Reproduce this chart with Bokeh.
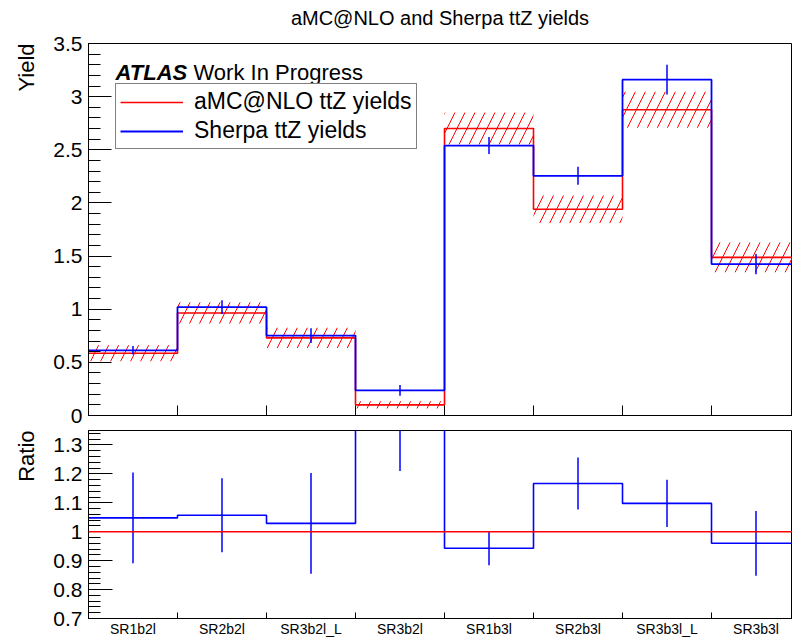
from bokeh.plotting import figure
from bokeh.models import (Range1d, FixedTicker, SingleIntervalTicker, NumeralTickFormatter,
                          Legend, LegendItem, Label, Span, Title, Div)
from bokeh.layouts import column
from bokeh.embed import file_html
from bokeh.resources import INLINE

# ---------------- data ----------------
categories = ["SR1b2l", "SR2b2l", "SR3b2l_L", "SR3b2l", "SR1b3l", "SR2b3l", "SR3b3l_L", "SR3b3l"]
amc_yield = [0.585, 0.965, 0.73, 0.10, 2.70, 1.94, 2.877, 1.488]
amc_err = [0.075, 0.10, 0.095, 0.035, 0.15, 0.13, 0.17, 0.14]
sherpa_yield = [0.613, 1.02, 0.752, 0.236, 2.54, 2.255, 3.16, 1.425]
sherpa_err = [0.04, 0.065, 0.07, 0.05, 0.08, 0.085, 0.14, 0.095]
ratio = [1.048, 1.057, 1.029, 2.36, 0.943, 1.167, 1.098, 0.96]
ratio_err = [0.157, 0.128, 0.174, 1.15, 0.059, 0.09, 0.082, 0.112]
yield_ticks_interval = 0.5
ratio_ticks_interval = 0.1

FONT = "Liberation Sans"
RED = "#ff0000"
BLUE = "#0000ff"
TITLE = "aMC@NLO and Sherpa ttZ yields"

n = len(categories)
edges = list(range(n + 1))
centers = [i + 0.5 for i in range(n)]


def style_common(p):
    p.grid.visible = False
    p.background_fill_color = "white"
    p.border_fill_color = "white"
    p.outline_line_color = "black"
    p.outline_line_width = 1


def axis_title(p, text):
    p.add_layout(Title(text=text, align="right", text_font=FONT, text_font_size="22px",
                       text_font_style="normal", text_color="black", standoff=23), "left")


# ---------------- title ----------------
title_div = Div(width=792, height=30,
                text=("<div style=\"margin-left:88px;width:704px;text-align:center;"
                      "padding-top:8px;font-family:'Liberation Sans';font-size:20px;"
                      "line-height:20px;color:black;white-space:nowrap\">" + TITLE + "</div>"),
                margin=0)

# ---------------- top panel ----------------
p1 = figure(width=792, height=398, x_range=Range1d(0, 7.91), y_range=Range1d(0, 3.5),
            output_backend="svg", toolbar_location=None, margin=0,
            min_border_left=88, min_border_right=0, min_border_top=13, min_border_bottom=13)
style_common(p1)

# hatched uncertainty band for aMC@NLO
p1.quad(left=edges[:-1], right=edges[1:],
        bottom=[v - e for v, e in zip(amc_yield, amc_err)],
        top=[v + e for v, e in zip(amc_yield, amc_err)],
        fill_alpha=0, line_alpha=0, hatch_pattern="/", hatch_color=RED,
        hatch_scale=20, hatch_weight=1)

red_step = p1.step(x=edges, y=amc_yield + [amc_yield[-1]], mode="after",
                   line_color=RED, line_width=1.6)
blue_step = p1.step(x=edges, y=sherpa_yield + [sherpa_yield[-1]], mode="after",
                    line_color=BLUE, line_width=1.8)
p1.segment(x0=centers, x1=centers,
           y0=[v - e for v, e in zip(sherpa_yield, sherpa_err)],
           y1=[v + e for v, e in zip(sherpa_yield, sherpa_err)],
           line_color=BLUE, line_width=1.5)

# axes
yax = p1.yaxis[0]
yax.ticker = SingleIntervalTicker(interval=yield_ticks_interval, num_minor_ticks=5)
yax.formatter = NumeralTickFormatter(format="0.[0]")
yax.major_tick_in = 23
yax.major_tick_out = 0
yax.minor_tick_in = 12
yax.minor_tick_out = 0
yax.major_label_text_font = FONT
yax.major_label_text_font_size = "21px"
yax.major_label_standoff = 6
yax.major_label_text_color = "black"
yax.axis_line_color = "black"

xax = p1.xaxis[0]
xax.ticker = FixedTicker(ticks=[], minor_ticks=edges)
xax.major_tick_in = 0
xax.major_tick_out = 0
xax.minor_tick_in = 10
xax.minor_tick_out = 0
xax.major_label_standoff = 0
xax.axis_line_color = "black"

axis_title(p1, "Yield")

legend = Legend(items=[LegendItem(label="aMC@NLO ttZ yields", renderers=[red_step]),
                       LegendItem(label="Sherpa ttZ yields", renderers=[blue_step])],
                location=(27, 266), orientation="vertical",
                border_line_color="black", border_line_width=1,
                background_fill_color="white", background_fill_alpha=1,
                label_text_font=FONT, label_text_font_size="23px", label_text_color="black",
                glyph_width=63, glyph_height=24, label_height=24, label_standoff=11,
                padding=4, spacing=2, margin=0)
p1.add_layout(legend)

p1.add_layout(Label(x=27, y=343, x_units="screen", y_units="screen", text="ATLAS",
                    text_font=FONT, text_font_size="22px", text_font_style="bold italic",
                    text_baseline="alphabetic", text_color="black"))
p1.add_layout(Label(x=105, y=343, x_units="screen", y_units="screen", text="Work In Progress",
                    text_font=FONT, text_font_size="22px", text_font_style="normal",
                    text_baseline="alphabetic", text_color="black"))

# ---------------- ratio panel ----------------
p2 = figure(width=792, height=211, x_range=p1.x_range, y_range=Range1d(0.7, 1.35),
            output_backend="svg", toolbar_location=None, margin=0,
            min_border_left=88, min_border_right=0, min_border_top=2, min_border_bottom=20)
style_common(p2)

p2.add_layout(Span(location=1.0, dimension="width", line_color=RED, line_width=1.6))
p2.step(x=edges, y=ratio + [ratio[-1]], mode="after", line_color=BLUE, line_width=1.6)
p2.segment(x0=centers, x1=centers,
           y0=[v - e for v, e in zip(ratio, ratio_err)],
           y1=[v + e for v, e in zip(ratio, ratio_err)],
           line_color=BLUE, line_width=1.5)

yax2 = p2.yaxis[0]
yax2.ticker = SingleIntervalTicker(interval=ratio_ticks_interval, num_minor_ticks=5)
yax2.formatter = NumeralTickFormatter(format="0.[0]")
yax2.major_tick_in = 24
yax2.major_tick_out = 0
yax2.minor_tick_in = 12
yax2.minor_tick_out = 0
yax2.major_label_text_font = FONT
yax2.major_label_text_font_size = "21px"
yax2.major_label_standoff = 6
yax2.major_label_text_color = "black"
yax2.axis_line_color = "black"

xax2 = p2.xaxis[0]
xax2.ticker = FixedTicker(ticks=centers, minor_ticks=edges)
xax2.major_tick_in = 0
xax2.major_tick_out = 0
xax2.minor_tick_in = 6
xax2.minor_tick_out = 0
xax2.major_label_overrides = {c: lab for c, lab in zip(centers, categories)}
xax2.major_label_text_font = FONT
xax2.major_label_text_font_size = "14px"
xax2.major_label_standoff = 2
xax2.major_label_text_color = "black"
xax2.axis_line_color = "black"

axis_title(p2, "Ratio")

layout = column(title_div, p1, p2, spacing=0)
open("out.html", "w").write(file_html(layout, INLINE))
